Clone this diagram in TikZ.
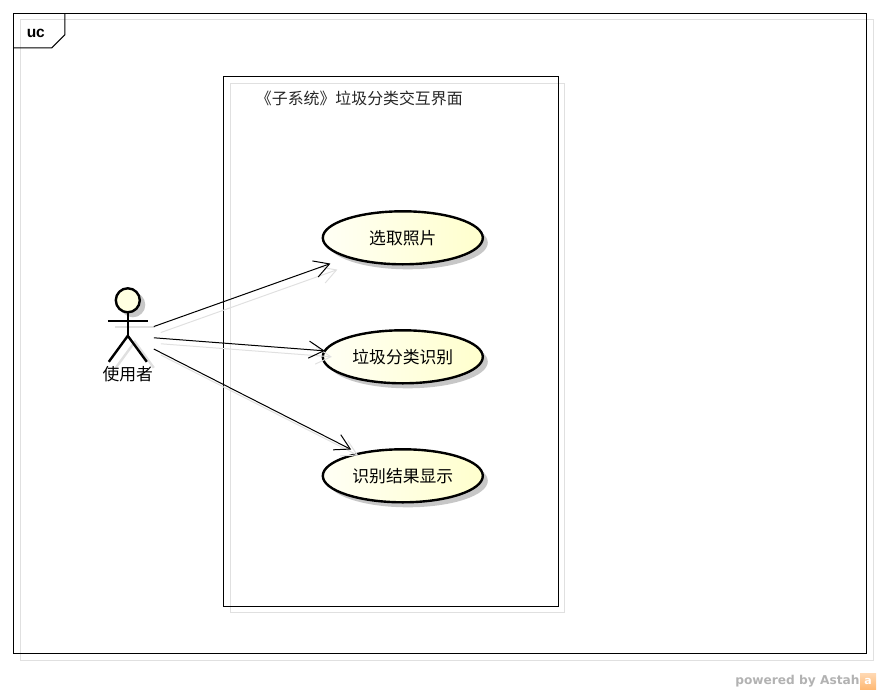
\documentclass[tikz,border=0pt]{standalone}
\usepackage{fontspec}
\newfontfamily\cjk{Noto Sans CJK SC}
\newfontfamily\tagfont{Liberation Sans}
\newfontfamily\brandfont{DejaVu Sans}
\usetikzlibrary{positioning}
\usetikzlibrary{shapes.geometric}
\usetikzlibrary{shadows}
\usetikzlibrary{arrows.meta}

\definecolor{shadowgray}{gray}{0.88}
\definecolor{usefill}{RGB}{255,255,205}
\tikzset{
  frameshadow/.style={draw=shadowgray, line width=1pt},
  frameline/.style={draw=black, line width=1pt},
  usecase/.style={draw, ellipse, line width=2.4pt, minimum width=160pt, minimum height=53pt,
    inner sep=0pt, outer sep=0pt, left color=usefill!20, right color=usefill,
    drop shadow={shadow xshift=5pt, shadow yshift=-5pt, fill=black!22, opacity=1},
    font=\cjk\fontsize{16.8}{18}\selectfont},
  actorline/.style={line width=2.4pt},
  assoc/.style={->, >={Straight Barb[length=15pt,width=17pt]}, line width=1pt},
  assocshadow/.style={assoc, draw=shadowgray, transform canvas={shift={(7,6)}}},
}

\begin{document}
\begin{tikzpicture}[x=1pt, y=-1pt]

  \useasboundingbox (0.2,0.2) rectangle (880.2,693.2);

  % Frame and subsystem
  \draw[frameshadow] (21,20) rectangle (873.5,660.5);
  \draw[frameline] (14,14) rectangle (867,654);
  \draw[frameline] (14,48) -- (52,48) -- (65,35) -- (65,14);
  \node[font=\tagfont\bfseries\fontsize{15.5}{16}\selectfont] (tag) at (36,33.5) {uc};
  \draw[frameshadow] (230.6,83.6) rectangle (564.6,612.6);
  \draw[frameline] (223.6,76.6) rectangle (558.6,606.6);
  \node[font=\cjk\fontsize{15.9}{18}\selectfont, text=black!85] (system) at (359.5,98.5) {《子系统》垃圾分类交互界面};

  % Actor
  \begin{scope}[transform canvas={shift={(7,6)}}]
    \draw[actorline, shadowgray] (108,321) -- (148,321);
    \draw[actorline, shadowgray] (109,362) -- (128,336) -- (147,362);
  \end{scope}
  \fill[black!22] (133,305) circle (12.5);
  \draw[actorline] (128,312) -- (128,336);
  \draw[actorline] (108,321) -- (148,321);
  \draw[actorline] (109,362) -- (128,336) -- (147,362);
  \node[draw, circle, line width=2.4pt, fill=usefill!60, minimum size=24pt, inner sep=0pt] (head) at (128,300.5) {};
  \node[minimum width=52pt, minimum height=100pt, inner sep=0pt, outer sep=0pt] (actorbox) at (128,336) {};
  \node[font=\cjk\fontsize{16.8}{18}\selectfont, inner sep=0pt] (user) at (128,374.5) {使用者};

  % Define nodes
  \node[usecase] (pick) at (403,238) {选取照片};
  \node[usecase, below=66pt of pick] (classify) {垃圾分类识别};
  \node[usecase, below=66pt of classify] (show) {识别结果显示};

  % Connect the nodes
  \draw[assocshadow, shorten >=19pt] (actorbox) -- (pick);
  \draw[assocshadow, shorten >=0pt] (actorbox) -- (classify);
  \draw[assocshadow, shorten >=9pt] (actorbox) -- (show);
  \draw[assoc, shorten >=19pt] (actorbox) -- (pick);
  \draw[assoc, shorten >=0pt] (actorbox) -- (classify);
  \draw[assoc, shorten >=9pt] (actorbox) -- (show);

  % Footer
  \node[anchor=east, inner sep=0pt, text=black!30, font=\brandfont\bfseries\fontsize{12.2}{14}\selectfont] (brand) at (860,681.5) {powered by Astah};
  \node[right=0pt of brand, minimum size=16pt, inner sep=0pt, top color=orange!30, bottom color=orange!55, text=white, font=\brandfont\bfseries\fontsize{11}{12}\selectfont] (logo) {a};

\end{tikzpicture}
\end{document}
